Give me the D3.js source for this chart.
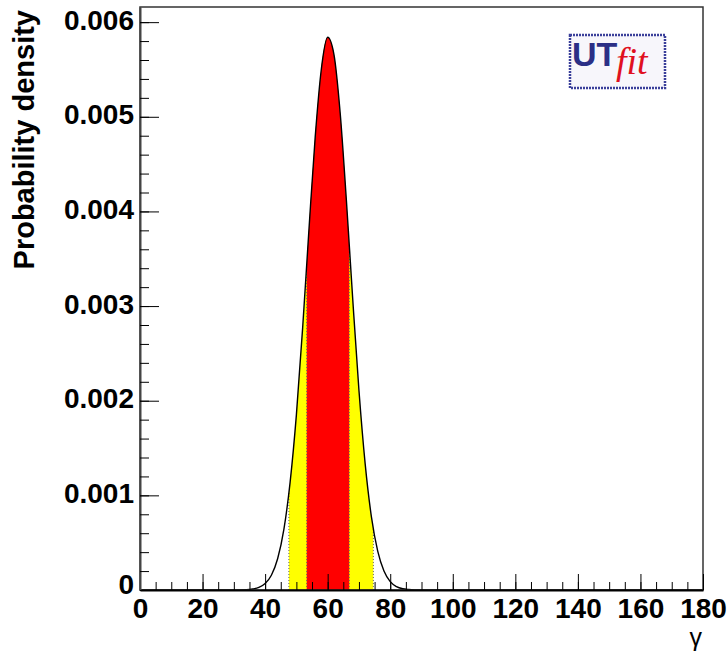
<!DOCTYPE html>
<html>
<head>
<meta charset="utf-8">
<script src="https://cdn.jsdelivr.net/npm/d3@7"></script>
<style>
  body { margin: 0; background: #fff; }
  svg { display: block; font-family: "Liberation Sans", Arial, sans-serif; }
</style>
</head>
<body>
<div id="chart"></div>
<script>
// gamma posterior (degrees, probability density)
var gammaValues = [0, 30, 34, 36, 38, 40, 42, 44, 46, 48, 50, 52, 54, 56, 58, 60, 62, 64, 66, 68, 70, 72, 74, 76, 78, 80, 82, 84, 86, 88, 90, 180];
var densityValues = [0, 0, 0.000003, 0.00001, 0.000027, 0.000068, 0.000156, 0.00033, 0.00064, 0.00114, 0.00185, 0.00277, 0.0038, 0.00478, 0.00551, 0.00584, 0.00566, 0.00504, 0.00411, 0.00308, 0.00211, 0.00133, 0.00077, 0.00041, 0.0002, 0.000088, 0.000036, 0.000013, 0.000005, 0.0000015, 0, 0];

// 68% and 95% probability ranges
var band68 = [53.3, 66.9];
var band95 = [47.6, 74.6];

var xMajorTicks = [0, 20, 40, 60, 80, 100, 120, 140, 160, 180];
var yMajorTicks = [0, 0.001, 0.002, 0.003, 0.004, 0.005, 0.006];

var width = 728, height = 652;
var margin = { top: 7, right: 25, bottom: 62, left: 140 };

var points = gammaValues.map(function(g, i) { return { g: g, p: densityValues[i] }; });

var svg = d3.select("#chart").append("svg")
    .attr("width", width)
    .attr("height", height);

var x = d3.scaleLinear()
    .domain([0, 180])
    .range([margin.left, width - margin.right]);

var y = d3.scaleLinear()
    .domain([0, 0.00616])
    .range([height - margin.bottom, margin.top]);

var area = d3.area()
    .x(function(d) { return x(d.g); })
    .y0(y(0))
    .y1(function(d) { return y(d.p); })
    .curve(d3.curveMonotoneX);

var line = d3.line()
    .x(function(d) { return x(d.g); })
    .y(function(d) { return y(d.p); })
    .curve(d3.curveMonotoneX);

// clip regions for the two bands
var defs = svg.append("defs");
[["clip95", band95], ["clip68", band68]].forEach(function(c) {
  defs.append("clipPath").attr("id", c[0])
    .append("rect")
    .attr("x", x(c[1][0]))
    .attr("width", x(c[1][1]) - x(c[1][0]))
    .attr("y", y.range()[1])
    .attr("height", y.range()[0] - y.range()[1]);
});

svg.append("path").datum(points)
    .attr("d", area)
    .attr("fill", "#ffff00")
    .attr("clip-path", "url(#clip95)");

svg.append("path").datum(points)
    .attr("d", area)
    .attr("fill", "#ff0000")
    .attr("clip-path", "url(#clip68)");

// dotted band edges
var edges = band95.concat(band68);
var interp = function(g) {
  var i = d3.bisectLeft(gammaValues, g);
  var a = points[i - 1], b = points[i];
  return a.p + (b.p - a.p) * (g - a.g) / (b.g - a.g);
};
svg.append("g").selectAll("line")
    .data(edges)
    .join("line")
    .attr("x1", function(d) { return x(d); })
    .attr("x2", function(d) { return x(d); })
    .attr("y1", y(0))
    .attr("y2", function(d) { return y(interp(d)); })
    .attr("stroke", "#666")
    .attr("stroke-width", 1)
    .attr("stroke-dasharray", "1,2");

svg.append("path").datum(points)
    .attr("d", line)
    .attr("fill", "none")
    .attr("stroke", "#000")
    .attr("stroke-width", 1.4);

// frame
svg.append("rect")
    .attr("x", x(0))
    .attr("y", y.range()[1])
    .attr("width", x(180) - x(0))
    .attr("height", y(0) - y.range()[1])
    .attr("fill", "none")
    .attr("stroke", "#333")
    .attr("stroke-width", 1.5);

// x axis: minor then major
var xMinor = d3.range(0, 181, 5);
svg.append("g")
    .attr("transform", "translate(0," + y(0) + ")")
    .call(d3.axisTop(x).tickValues(xMinor).tickSize(8).tickSizeOuter(0).tickFormat(""))
    .call(function(g) { g.select(".domain").attr("stroke", "#000").attr("stroke-width", 2); });

var xAxis = svg.append("g")
    .attr("transform", "translate(0," + y(0) + ")")
    .call(d3.axisTop(x).tickValues(xMajorTicks).tickSize(16).tickSizeOuter(0).tickFormat(d3.format("d")));
xAxis.select(".domain").remove();
xAxis.selectAll("text")
    .attr("y", 28)
    .attr("dy", null)
    .attr("font-size", 28)
    .attr("font-weight", "bold")
    .attr("fill", "#000");

// y axis
var yMinor = d3.range(0, 31).map(function(i) { return i * 0.0002; });
svg.append("g")
    .attr("transform", "translate(" + x(0) + ",0)")
    .call(d3.axisRight(y).tickValues(yMinor).tickSize(9).tickSizeOuter(0).tickFormat(""))
    .call(function(g) { g.select(".domain").attr("stroke", "#444").attr("stroke-width", 2); });

var yAxis = svg.append("g")
    .attr("transform", "translate(" + x(0) + ",0)")
    .call(d3.axisRight(y).tickValues(yMajorTicks).tickSize(19).tickSizeOuter(0)
      .tickFormat(function(d) { return d === 0 ? "0" : d3.format(".3f")(d); }));
yAxis.select(".domain").remove();
yAxis.selectAll("text")
    .attr("x", -6)
    .attr("dy", null)
    .attr("y", function(d) { return d === 0 ? 3 : 7; })
    .attr("text-anchor", "end")
    .attr("font-size", 28)
    .attr("font-weight", "bold")
    .attr("fill", "#000");

// axis titles
svg.append("text")
    .attr("transform", "translate(34,10) rotate(-90)")
    .attr("text-anchor", "end")
    .attr("font-size", 29)
    .attr("font-weight", "bold")
    .text("Probability density");

svg.append("text")
    .attr("x", x(180) - 1)
    .attr("y", 646)
    .attr("text-anchor", "end")
    .attr("font-size", 25)
    .text("γ");

// UTfit logo
var logo = svg.append("g").attr("transform", "translate(570,35)");
logo.append("rect")
    .attr("width", 95)
    .attr("height", 53)
    .attr("fill", "#f7f6fb")
    .attr("stroke", "#3a3f9a")
    .attr("stroke-width", 2.5)
    .attr("stroke-dasharray", "2,1");
logo.append("text")
    .attr("x", 2)
    .attr("y", 31)
    .attr("font-size", 34)
    .attr("font-weight", "bold")
    .attr("fill", "#2b2f86")
    .text("UT");
logo.append("text")
    .attr("x", 46)
    .attr("y", 39)
    .attr("font-family", "Liberation Serif, serif")
    .attr("font-style", "italic")
    .attr("font-size", 38)
    .attr("fill", "#e01020")
    .text("fit");
</script>
</body>
</html>
